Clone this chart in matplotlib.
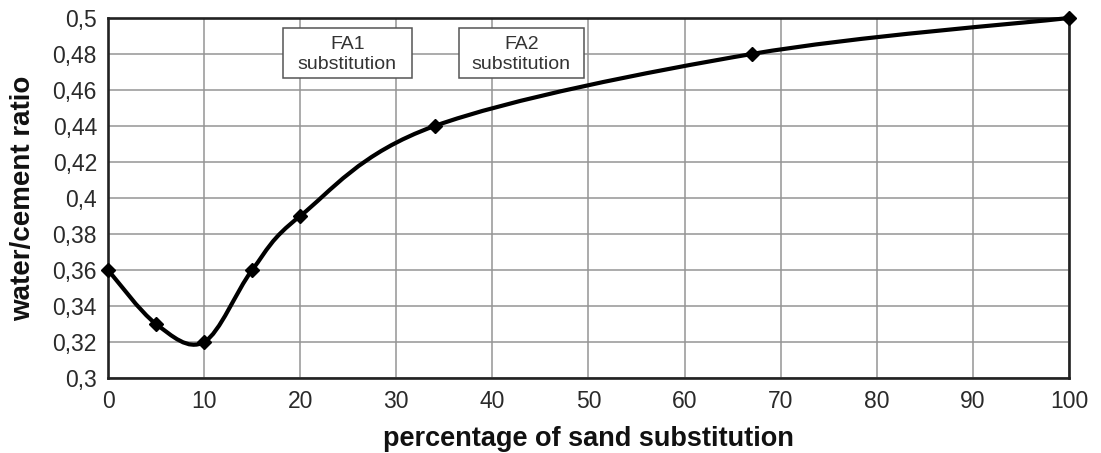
import matplotlib.pyplot as plt
from matplotlib.path import Path
from matplotlib.patches import PathPatch, Rectangle

plt.rcParams['font.family'] = ['Liberation Sans', 'DejaVu Sans']

# Measured water/cement ratio against sand substitution
sand_pct = [0, 5, 10, 15, 20, 34, 67, 100]
wc_ratio = [0.36, 0.33, 0.32, 0.36, 0.39, 0.44, 0.48, 0.50]

x_ticks = [0, 10, 20, 30, 40, 50, 60, 70, 80, 90, 100]
y_ticks = [0.30, 0.32, 0.34, 0.36, 0.38, 0.40, 0.42, 0.44, 0.46, 0.48, 0.50]
y_tick_labels = ["0,3", "0,32", "0,34", "0,36", "0,38", "0,4",
                 "0,42", "0,44", "0,46", "0,48", "0,5"]

box_labels = ["FA1\nsubstitution", "FA2\nsubstitution"]
box_left = [18.2, 36.5]
box_right = [31.6, 49.5]


def smooth_path(xs, ys):
    # Catmull-Rom style cubic Bezier segments through each point
    pts = list(zip(xs, ys))
    verts = [pts[0]]
    codes = [Path.MOVETO]
    n = len(pts)
    for i in range(n - 1):
        p0 = pts[max(i - 1, 0)]
        p1 = pts[i]
        p2 = pts[i + 1]
        p3 = pts[min(i + 2, n - 1)]
        c1 = (p1[0] + (p2[0] - p0[0]) / 6, p1[1] + (p2[1] - p0[1]) / 6)
        c2 = (p2[0] - (p3[0] - p1[0]) / 6, p2[1] - (p3[1] - p1[1]) / 6)
        verts += [c1, c2, p2]
        codes += [Path.CURVE4] * 3
    return Path(verts, codes)


fig = plt.figure(figsize=(11.01, 4.53), dpi=100)
ax = fig.add_axes([0.0981, 0.1656, 0.8728, 0.7947])

ax.add_patch(PathPatch(smooth_path(sand_pct, wc_ratio), facecolor='none',
                       edgecolor='black', lw=3.0, zorder=3, clip_on=False))
ax.plot(sand_pct, wc_ratio, linestyle='none', marker='D', ms=7.5,
        color='black', zorder=4, clip_on=False)

ax.set_xlim(0, 100)
ax.set_ylim(0.3, 0.5)
ax.set_xticks(x_ticks)
ax.set_yticks(y_ticks)
ax.set_yticklabels(y_tick_labels)
ax.tick_params(length=0, labelsize=16.5, colors='#2a2a2a')
ax.tick_params(axis='x', pad=9)
ax.tick_params(axis='y', pad=8)
ax.grid(True, color='#959595', lw=1.1)
ax.set_axisbelow(True)
for s in ax.spines.values():
    s.set_linewidth(1.9)
    s.set_color('#222222')

# Labelled boxes for the two fly ash ranges
for label, x0, x1 in zip(box_labels, box_left, box_right):
    ax.add_patch(Rectangle((x0, 0.4667), x1 - x0, 0.0277, fc='white',
                           ec='#555555', lw=1.1, zorder=5))
    ax.text((x0 + x1) / 2, 0.4797, label, ha='center', va='center',
            fontsize=14, color='#333333', linespacing=1.3, zorder=6)

ax.set_xlabel("percentage of sand substitution", fontsize=19.5,
              fontweight='bold', labelpad=9, color='#111111')
ax.set_ylabel("water/cement ratio", fontsize=20, fontweight='bold',
              labelpad=12, color='#111111')

fig.savefig("out.png", dpi=100)
